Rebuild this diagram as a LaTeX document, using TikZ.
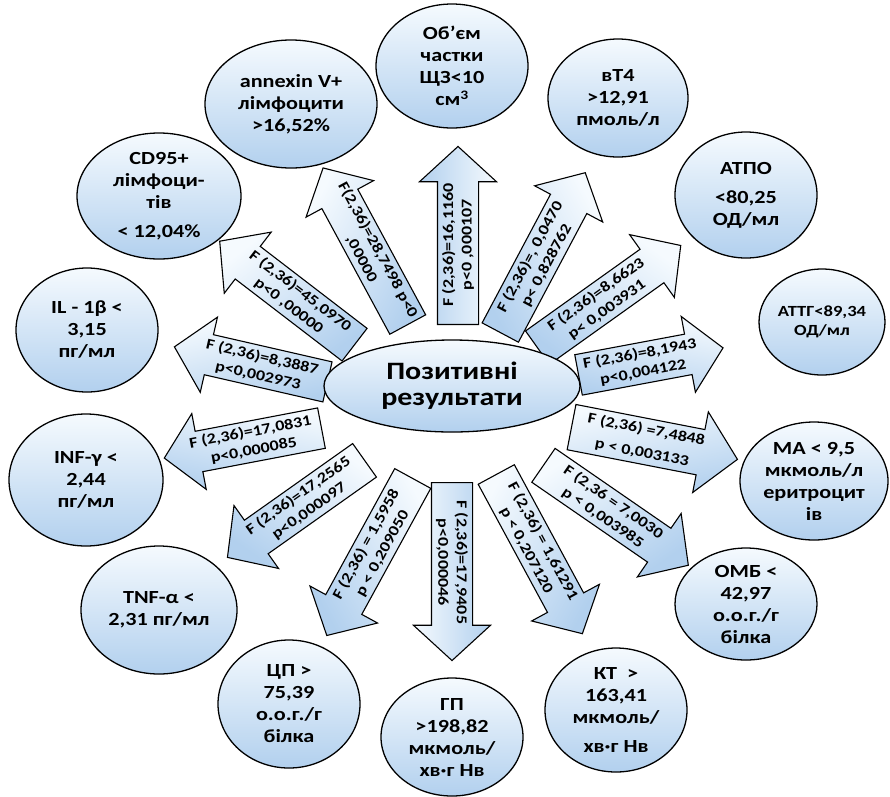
\documentclass[tikz,border=0pt]{standalone}
\usepackage{fontspec}
\setmainfont{Carlito}[FakeStretch=1.2]
\usetikzlibrary{shapes.geometric,shapes.arrows}
\definecolor{bt}{HTML}{F5FAFE}
\definecolor{bb}{HTML}{B2D0EE}
\tikzset{el/.style={ellipse,draw,line width=1.3pt,top color=bt,bottom color=bb,align=center,inner sep=0pt,font=\bfseries\fontsize{18.5}{22}\selectfont}}
\tikzset{ar/.style={single arrow,draw,line width=1.1pt,top color=bt,bottom color=bb,shading angle=-#1,rotate=#1,anchor=tail,align=center,inner xsep=0pt,inner ysep=4pt,single arrow head extend=18pt,single arrow tip angle=95,font=\bfseries\fontsize{15}{18.5}\selectfont}}
\tikzset{lf/.style={shape border rotate=180}}

\begin{document}
\begin{tikzpicture}[x=1pt,y=-1pt]
\useasboundingbox (0,0) rectangle (890,796);
% arrows
\node[ar=90,minimum height=178] (a1) at (458,325) {F (2,36)=16,1160\\p<0 ,000107};
\node[ar=62,minimum height=181] (a2) at (500,333) {F (2,36)=, 0,0470\\p< 0,828762};
\node[ar=35.5,minimum height=176] (a3) at (537,348) {F (2,36)=8,6623\\p< 0,003931};
\node[ar=10.6,minimum height=147] (a4) at (578,375) {F (2,36)=8,1943\\p<0,004122};
\node[ar=-11,minimum height=169] (a5) at (571,427) {F (2,36) =7,4848\\[5pt]p < 0,003133};
\node[ar=-34.6,minimum height=176] (a6) at (543,465) {F (2,36 = 7,0030\\p < 0,003985};
\node[ar=-61.6,minimum height=181] (a7) at (496,474) {F (2,36) = 1,61291\\p < 0,207120};
\node[ar=-90,minimum height=178] (a8) at (452,482) {F (2,36)=17,9405\\p<0,000046};
\node[ar=61.3,lf,minimum height=179] (a9) at (413,478) {F (2,36) = 1,5958\\p < 0,209050};
\node[ar=35.3,lf,minimum height=168] (a10) at (365,460) {F (2,36)=17,2565\\p<0,000097};
\node[ar=10.8,lf,minimum height=160] (a11) at (322,428) {F (2,36)=17,0831\\p<0,000085};
\node[ar=-12.9,lf,minimum height=157] (a12) at (328,382) {F (2,36)=8,3887\\p<0,002973};
\node[ar=-37.5,lf,minimum height=170] (a13) at (355,345) {F (2,36)=45,0970\\p<0 ,00000};
\node[ar=-61.6,lf,minimum height=178] (a14) at (408,325) {F(2,36)=28,7498 p<0\\,00000};
% bubbles
\node[el,minimum width=256,minimum height=92,font=\bfseries\fontsize{25}{26}\selectfont] (cen) at (452,386) {Позитивні\\результати};
\node[el,minimum width=152,minimum height=124] (vol) at (452,66) {Об’єм\\частки\\ЩЗ<10\\см\textsuperscript{3}};
\node[el,minimum width=172,minimum height=128] (anx) at (291,104) {annexin V+\\лімфоцити\\>16,52\%};
\node[el,minimum width=140,minimum height=118] (ft4) at (618,98) {вТ4\\>12,91\\пмоль/л};
\node[el,minimum width=142,minimum height=126] (atpo) at (746,195) {АТПО\\[7pt]<80,25\\ОД/мл};
\node[el,minimum width=126,minimum height=106,font=\bfseries\fontsize{15.5}{19}\selectfont] (attg) at (822,322) {АТТГ<89,34\\ОД/мл};
\node[el,minimum width=148,minimum height=118] (ma) at (814,481) {МА < 9,5\\мкмоль/л\\еритроцит\\ів};
\node[el,minimum width=142,minimum height=112] (omb) at (746,604) {ОМБ <\\42,97\\о.о.г./г\\білка};
\node[el,minimum width=142,minimum height=124] (kt) at (616,710) {КТ\ \ >\\163,41\\мкмоль/\\[7pt]хв·г Нв};
\node[el,minimum width=142,minimum height=118] (gp) at (452,737) {ГП\\>198,82\\мкмоль/\\хв·г Нв};
\node[el,minimum width=142,minimum height=128] (cp) at (289,704) {ЦП >\\75,39\\о.о.г./г\\білка};
\node[el,minimum width=156,minimum height=128] (tnf) at (159,610) {TNF-α <\\2,31 пг/мл};
\node[el,minimum width=154,minimum height=132] (inf) at (86,480) {INF-γ <\\2,44\\пг/мл};
\node[el,minimum width=142,minimum height=124] (il) at (87,330) {IL - 1β <\\3,15\\пг/мл};
\node[el,minimum width=164,minimum height=126] (cd) at (159,196) {CD95+\\лімфоци-\\тів\\[7pt]< 12,04\%};
\end{tikzpicture}
\end{document}
